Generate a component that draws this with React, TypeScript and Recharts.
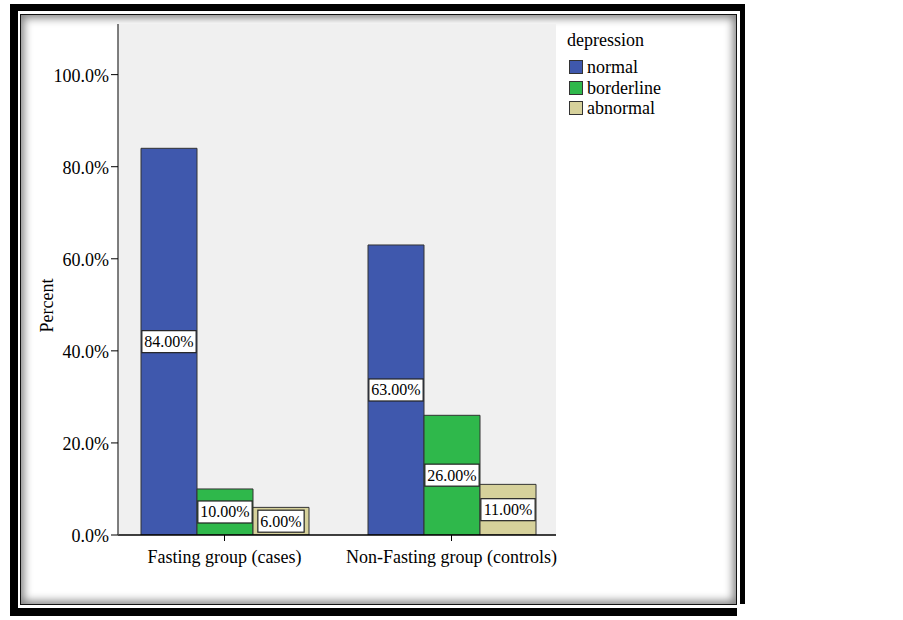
import { BarChart, Bar, XAxis, YAxis, CartesianGrid, LabelList } from 'recharts';

const categories = ['Fasting group (cases)', 'Non-Fasting group (controls)'];
const normal = [84, 63];
const borderline = [10, 26];
const abnormal = [6, 11];
const seriesNames = ['normal', 'borderline', 'abnormal'];
const seriesColors = ['#3f58ad', '#2fb84b', '#d6d19b'];
const yTicks = [0, 20, 40, 60, 80, 100];

const data = categories.map((name, i) => ({
  name,
  normal: normal[i],
  borderline: borderline[i],
  abnormal: abnormal[i],
}));

const FONT = '"Liberation Serif", "Times New Roman", serif';

// white box with the percentage, sitting at the middle of the bar
const ValueBox = (props: any) => {
  const { x, y, width, height, value } = props;
  const text = Number(value).toFixed(2) + '%';
  const textW = text.split('').reduce((s: number, c: string) => s + (c === '.' ? 4 : c === '%' ? 13.3 : 8), 0);
  const w = textW + 5;
  const h = 22;
  const cx = x + width / 2;
  const cy = y + height / 2;
  return (
    <g>
      <rect x={cx - w / 2} y={cy - h / 2} width={w} height={h} fill="#fff" stroke="#222" strokeWidth={1.2} />
      <text x={cx} y={cy + 5.5} textAnchor="middle" fontSize={16} fontFamily={FONT} fill="#000">
        {text}
      </text>
    </g>
  );
};

const PercentLabel = (props: any) => {
  const vb = props.viewBox || {};
  const x = vb.x + 15;
  const y = vb.y + vb.height / 2 + 26;
  return (
    <text x={x} y={y} transform={`rotate(-90 ${x} ${y})`} textAnchor="middle" fontSize={18} fontFamily={FONT} fill="#000">
      Percent
    </text>
  );
};

const App = () => {
  return (
    <div style={{ position: 'absolute', left: 0, top: 0, width: 903, height: 620, background: '#fff', fontFamily: FONT }}>
      {/* picture frame */}
      <div
        style={{
          position: 'absolute', left: 10, top: 4, width: 735, height: 612, boxSizing: 'border-box',
          borderStyle: 'solid', borderColor: '#000', borderWidth: '7px 5px 8px 8px',
        }}
      />
      <div
        style={{
          position: 'absolute', left: 20, top: 14, width: 717, height: 591, boxSizing: 'border-box',
          border: '1.5px solid #111', boxShadow: 'inset 0 0 8px 3px rgba(0,0,0,0.5)',
        }}
      />
      <div style={{ position: 'absolute', left: 737, top: 604, width: 10, height: 14, background: '#fff' }} />

      <div style={{ position: 'absolute', left: 0, top: 0 }}>
        <BarChart
          width={903}
          height={620}
          data={data}
          margin={{ top: 24, right: 347, bottom: 55, left: 38 }}
          barGap={0}
          barSize={56}
          style={{ fontFamily: FONT }}
        >
          <CartesianGrid fill="#f0f0f0" horizontal={false} vertical={false} />
          <XAxis xAxisId="top" orientation="top" dataKey="name" height={0} tick={false} tickLine={false} axisLine={{ stroke: '#555', strokeWidth: 1.5 }} padding={{ left: -7, right: -9 }} />
          <YAxis yAxisId="right" orientation="right" width={0} tick={false} tickLine={false} axisLine={{ stroke: '#555', strokeWidth: 1.5 }} domain={[0, 111]} />
          <XAxis
            dataKey="name"
            height={30}
            padding={{ left: -7, right: -9 }}
            axisLine={{ stroke: '#000', strokeWidth: 1.5 }}
            tickLine={{ stroke: '#000' }}
            tickSize={6}
            tick={{ fill: '#000', fontSize: 18, fontFamily: FONT, dy: 7 }}
          />
          <YAxis
            width={80}
            domain={[0, 111]}
            ticks={yTicks}
            allowDataOverflow
            tickFormatter={(v: number) => v.toFixed(1) + '%'}
            axisLine={{ stroke: '#555', strokeWidth: 1.5 }}
            tickLine={{ stroke: '#000' }}
            tickSize={7}
            tick={{ fill: '#000', fontSize: 18, fontFamily: FONT, dy: 1 }}
            label={{ content: <PercentLabel /> }}
          />
          {seriesNames.map((key, i) => (
            <Bar key={key} dataKey={key} fill={seriesColors[i]} stroke="#333" strokeWidth={1} isAnimationActive={false}>
              <LabelList dataKey={key} content={<ValueBox />} />
            </Bar>
          ))}
        </BarChart>
      </div>

      {/* legend */}
      <div style={{ position: 'absolute', left: 567, top: 30, color: '#000', fontSize: 18, lineHeight: '20px' }}>
        <div style={{ marginBottom: 7 }}>depression</div>
        {seriesNames.map((name, i) => (
          <div key={name} style={{ display: 'flex', alignItems: 'center', height: 20.5 }}>
            <span
              style={{
                display: 'inline-block', width: 12, height: 12, marginLeft: 2, marginRight: 4,
                background: seriesColors[i], border: '1px solid #333',
              }}
            />
            <span>{name}</span>
          </div>
        ))}
      </div>
    </div>
  );
};

export default App;
